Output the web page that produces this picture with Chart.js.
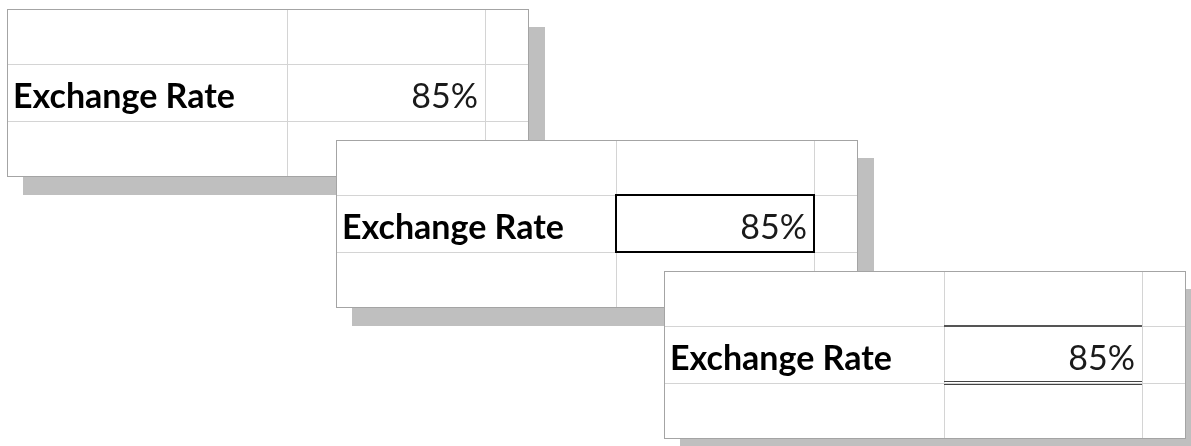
<!DOCTYPE html>
<html>
<head>
<meta charset="utf-8">
<script src="https://cdn.jsdelivr.net/npm/chart.js@4"></script>
<style>
  html, body { margin: 0; padding: 0; background: #fff; }
  body { width: 1191px; height: 446px; position: relative; overflow: hidden; }
  .panel {
    position: absolute;
    width: 522px; height: 168px;
    box-sizing: border-box;
    border: 1px solid #a4a4a4;
    background: #fff;
    box-shadow: 16px 18px 0 #bfbfbf;
  }
  .panel canvas { display: block; }
</style>
</head>
<body>
<div class="panel" id="p0"><canvas id="c0" width="520" height="166"></canvas></div>
<div class="panel" id="p1"><canvas id="c1" width="520" height="166"></canvas></div>
<div class="panel" id="p2"><canvas id="c2" width="520" height="166"></canvas></div>
<script>
// dados
const cellLabel = 'Exchange Rate';
const exchangeRate = [85, 85, 85];
const cellFormats = ['plain', 'outline', 'topDoubleBottom'];

// layout das planilhas (px)
const panelOrigins = [[7, 9], [336, 140], [664, 271]];
const colEdges = [0, 279, 477, 520];
const rowEdges = [0, 54, 111, 166];

// desenha o texto e as bordas da célula usando as escalas
const cellPlugin = {
    id: 'cellPlugin',
    afterDraw(chart, args, opts) {
        const ctx = chart.ctx;
        const x = chart.scales.x;
        const y = chart.scales.y;
        const left = x.getPixelForValue(colEdges[0]);
        const c1 = x.getPixelForValue(colEdges[1]);
        const c2 = x.getPixelForValue(colEdges[2]);
        const r1 = y.getPixelForValue(rowEdges[1]);
        const r2 = y.getPixelForValue(rowEdges[2]);

        ctx.save();
        ctx.textBaseline = 'alphabetic';
        ctx.fillStyle = '#000';
        ctx.font = 'bold 34px Lato';
        ctx.textAlign = 'left';
        ctx.fillText(cellLabel, left + 5, r2 - 13);

        ctx.fillStyle = '#1a1a1a';
        ctx.font = '34px Lato';
        ctx.textAlign = 'right';
        ctx.fillText(opts.value + '%', c2 - 7, r2 - 13);

        if (opts.format === 'outline') {
            ctx.strokeStyle = '#000';
            ctx.lineWidth = 2;
            ctx.strokeRect(c1, r1, c2 - c1, r2 - r1);
        } else if (opts.format === 'topDoubleBottom') {
            ctx.strokeStyle = '#555';
            ctx.lineWidth = 2;
            ctx.beginPath();
            ctx.moveTo(c1, r1);
            ctx.lineTo(c2, r1);
            ctx.stroke();
            ctx.lineWidth = 1;
            ctx.strokeStyle = '#444';
            ctx.beginPath();
            ctx.moveTo(c1, r2 - 1.5);
            ctx.lineTo(c2, r2 - 1.5);
            ctx.moveTo(c1, r2 + 1.5);
            ctx.lineTo(c2, r2 + 1.5);
            ctx.stroke();
        }
        ctx.restore();
    }
};

function gridScale(edges, reverse) {
    return {
        type: 'linear',
        min: edges[0],
        max: edges[edges.length - 1],
        reverse: reverse,
        afterBuildTicks: scale => {
            scale.ticks = edges.slice(1, -1).map(v => ({ value: v }));
        },
        ticks: { display: false },
        grid: { color: '#d4d4d4', lineWidth: 1, drawTicks: false },
        border: { display: false }
    };
}

exchangeRate.forEach((value, i) => {
    const panel = document.getElementById('p' + i);
    panel.style.left = panelOrigins[i][0] + 'px';
    panel.style.top = panelOrigins[i][1] + 'px';

    new Chart(document.getElementById('c' + i).getContext('2d'), {
        type: 'scatter',
        data: { datasets: [] },
        options: {
            responsive: false,
            animation: false,
            layout: { padding: 0 },
            plugins: {
                legend: { display: false },
                tooltip: { enabled: false },
                cellPlugin: { value: value, format: cellFormats[i] }
            },
            scales: {
                x: gridScale(colEdges, false),
                y: gridScale(rowEdges, true)
            }
        },
        plugins: [cellPlugin]
    });
});
</script>
</body>
</html>
